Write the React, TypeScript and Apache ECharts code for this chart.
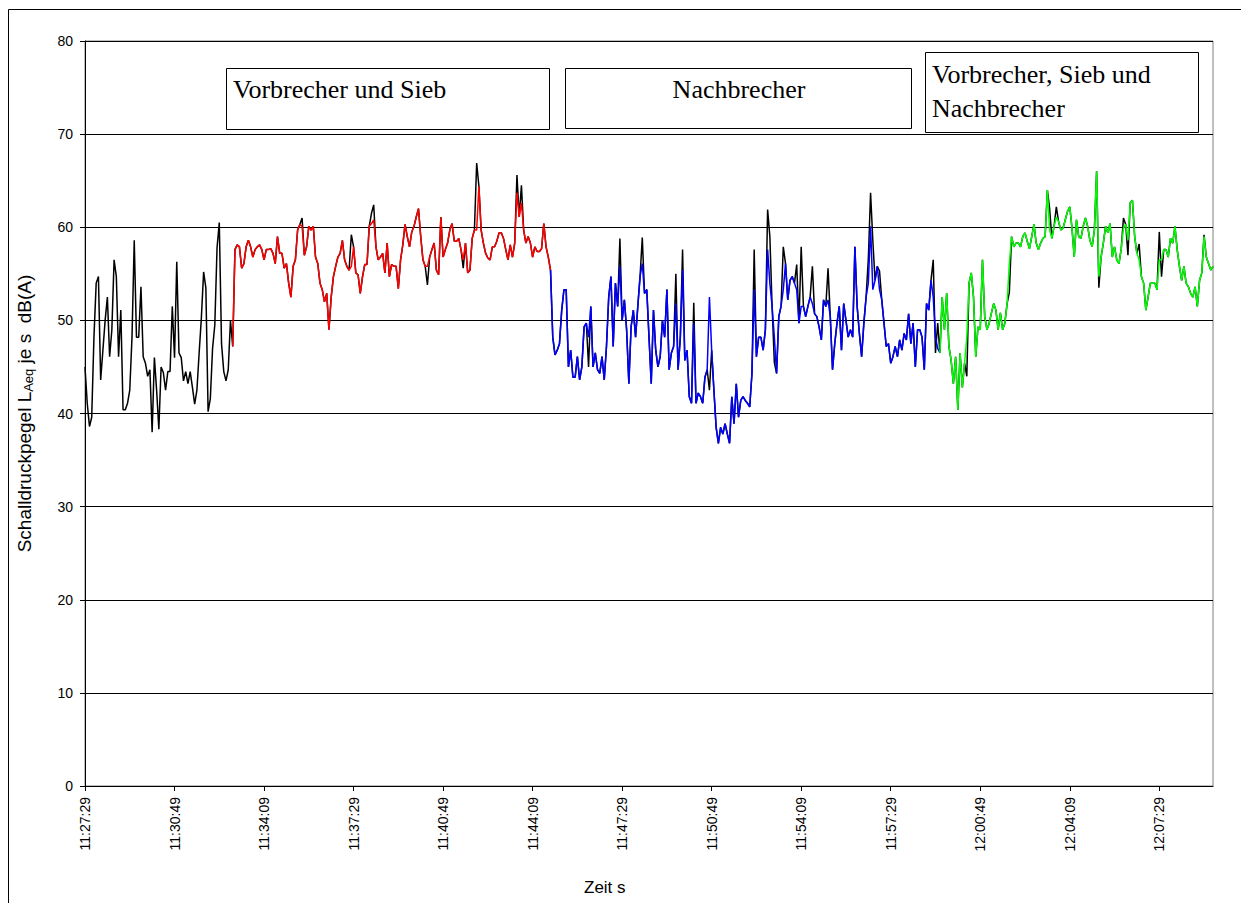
import React, { useEffect, useRef } from "react";
import * as echarts from "echarts";

const SANS = 'Arial, "Liberation Sans", sans-serif';
const SERIF = '"Times New Roman", "Liberation Serif", serif';

// x tick labels (one every 200 s = every 40 samples of 5 s)
const tickLabels = [
  "11:27:29", "11:30:49", "11:34:09", "11:37:29", "11:40:49", "11:44:09", "11:47:29",
  "11:50:49", "11:54:09", "11:57:29", "12:00:49", "12:04:09", "12:07:29",
];
const SAMPLES_PER_TICK = 40;
const SAMPLE_COUNT = 505;

// LAeq per 5 s sample (dB(A))
const leadBlack = [
  45.0, 41.1, 38.6, 39.6, 48.2, 54.0, 54.7, 43.6, 46.8, 50.0,
  52.5, 46.1, 49.0, 56.5, 54.7, 46.1, 51.1, 40.4, 40.4, 41.1,
  42.5, 48.2, 58.6, 48.2, 48.2, 53.6, 46.1, 45.4, 44.0, 44.7,
  38.0, 46.0, 42.5, 38.3, 45.0, 44.4, 42.5, 44.5, 44.5, 51.5,
  46.0, 56.3, 46.5, 46.0, 43.5, 44.5, 43.2, 44.5, 42.8, 41.0,
  42.5, 46.5, 50.3, 55.2, 53.5, 40.2, 41.6, 47.0, 49.5, 57.8,
  60.5, 47.5, 44.5, 43.5, 44.7, 50.0,
];

const RED_START = 66; // Vorbrecher und Sieb
const redLevels = [
  47.2, 57.6, 58.1, 57.9, 55.6, 56.1, 57.9, 58.6, 57.9, 56.8,
  57.6, 57.9, 58.1, 57.6, 56.5, 57.6, 57.6, 57.7, 57.2, 56.1,
  59.0, 57.2, 57.2, 55.6, 56.1, 54.0, 52.5, 55.8, 56.5, 59.7,
  60.3, 60.1, 57.0, 57.9, 60.1, 59.7, 60.1, 56.8, 56.1, 54.0,
  53.3, 52.0, 52.9, 49.0, 52.5, 54.7, 55.8, 56.8, 57.2, 58.6,
  56.5, 55.8, 55.4, 55.8, 57.9, 55.1, 54.9, 52.9, 54.7, 56.0,
  56.0, 60.1, 60.4, 60.8, 57.9, 56.5, 56.8, 57.2, 55.1, 58.3,
  54.7, 56.0, 55.8, 55.8, 53.4, 56.5, 58.1, 60.3, 59.0, 57.9,
  59.5, 60.1, 61.1, 62.0, 59.0, 56.5, 55.8, 55.8, 56.8, 57.6,
  58.3, 55.4, 54.9, 61.1, 56.8, 57.6, 58.3, 59.7, 60.4, 58.5,
  58.5, 58.8, 57.6, 56.5, 58.3, 55.1, 55.4, 58.8, 59.7, 59.7,
  64.4, 59.7, 58.3, 57.2, 56.7, 56.5, 57.9, 57.9, 58.5, 59.4,
  59.4, 58.8, 57.6, 56.5, 58.1, 56.8, 58.3, 63.7, 61.1, 62.6,
  59.7, 58.3, 59.0, 58.3, 56.8, 57.9, 57.4, 57.4, 57.7, 60.4,
  57.9, 56.8, 55.4,
];

const BLUE_START = 208; // Nachbrecher
const blueLevels = [
  55.4, 48.2, 46.3, 46.8, 47.5, 51.1, 53.3, 53.3, 45.0, 46.8,
  43.9, 43.9, 46.1, 43.6, 45.0, 49.3, 49.7, 48.2, 51.5, 45.0,
  46.5, 44.7, 44.3, 46.1, 43.6, 47.2, 52.5, 54.7, 47.2, 54.0,
  51.5, 55.8, 50.0, 52.2, 49.0, 43.2, 49.3, 51.1, 48.2, 51.5,
  54.7, 56.1, 52.9, 53.3, 48.2, 43.2, 51.1, 46.8, 45.0, 46.1,
  50.0, 48.2, 53.3, 44.7, 46.5, 47.2, 51.8, 44.7, 48.2, 55.4,
  45.7, 46.8, 41.8, 41.1, 49.7, 41.1, 42.2, 41.8, 41.1, 43.9,
  44.7, 52.5, 46.8, 42.5, 38.5, 36.8, 38.5, 37.8, 38.9, 37.8,
  36.8, 41.8, 38.9, 43.2, 39.6, 41.4, 41.8, 41.4, 41.1, 40.7,
  44.3, 53.3, 46.1, 48.2, 48.2, 46.8, 49.0, 57.6, 54.0, 51.5,
  48.2, 44.3, 50.4, 51.5, 53.3, 56.1, 52.2, 54.3, 54.7, 54.0,
  53.3, 49.7, 51.5, 51.5, 50.4, 51.5, 52.5, 51.8, 50.7, 50.4,
  49.3, 47.9, 52.2, 51.5, 52.2, 50.4, 44.7, 47.5, 49.7, 51.5,
  46.8, 51.8, 50.0, 48.2, 49.0, 48.2, 57.9, 51.5, 48.6, 46.1,
  49.7, 52.5, 54.0, 60.1, 53.3, 54.3, 55.8, 53.3, 52.2, 49.7,
  47.2, 47.5, 45.4, 46.1, 47.2, 46.1, 47.9, 46.8, 48.6, 47.9,
  50.7, 47.5, 49.7, 45.0, 49.0, 49.0, 48.2, 44.7, 51.8, 51.1,
  54.3, 52.5, 48.2, 47.0, 46.5,
];

const GREEN_START = 382; // Vorbrecher, Sieb und Nachbrecher
const greenLevels = [
  46.5, 52.5, 49.0, 52.9, 47.2, 45.7, 43.2, 46.1, 40.4, 46.5,
  42.8, 45.4, 48.2, 54.0, 55.1, 52.5, 46.1, 49.3, 49.0, 56.5,
  50.4, 49.0, 49.7, 50.8, 51.8, 51.1, 49.0, 50.8, 49.0, 49.7,
  51.8, 56.1, 59.0, 57.9, 58.3, 58.3, 57.9, 59.0, 59.4, 58.5,
  57.7, 59.0, 60.3, 58.3, 57.6, 58.3, 58.8, 59.0, 64.0, 59.7,
  58.8, 60.1, 61.1, 60.6, 59.7, 59.9, 60.8, 61.7, 62.2, 59.9,
  56.8, 60.8, 59.0, 58.8, 60.1, 61.0, 60.1, 58.6, 57.9, 59.7,
  66.0, 54.7, 56.8, 58.3, 60.1, 59.4, 60.4, 56.8, 57.9, 56.5,
  56.1, 57.7, 59.9, 60.3, 58.6, 62.6, 62.9, 59.0, 57.2, 56.5,
  54.7, 54.0, 51.1, 52.5, 54.0, 54.0, 54.0, 53.3, 56.5, 56.5,
  57.6, 57.6, 56.8, 58.8, 58.3, 60.1, 57.6, 55.8, 54.3, 55.8,
  54.0, 53.6, 52.9, 52.5, 53.6, 51.5, 54.3, 55.1, 59.0, 56.8,
  56.1, 55.4, 55.8,
];

// samples where the black trace differs from the coloured one: [sample, dB(A)]
const blackPeaks: [number, number][] = [
  [97, 61.0], [119, 59.2], [128, 61.5], [129, 62.4], [153, 53.8], [169, 55.6],
  [175, 66.9], [193, 65.6], [195, 64.5], [225, 45.0], [239, 58.8], [249, 58.9],
  [264, 55.0], [267, 57.6], [272, 51.9], [279, 42.5], [299, 57.6], [305, 61.9],
  [306, 59.0], [308, 45.5], [312, 57.9], [318, 56.0], [320, 57.9], [325, 55.8],
  [332, 55.6], [350, 56.6], [351, 63.7], [352, 58.6], [355, 55.3], [379, 56.5],
  [380, 46.5], [381, 49.7], [394, 44.0], [413, 53.0], [431, 62.0], [434, 62.2],
  [453, 53.5], [464, 61.0], [466, 57.0], [471, 58.2], [480, 59.5], [481, 54.7],
  [500, 59.2],
];

function buildBlack(): number[] {
  const arr = [
    ...leadBlack,
    ...redLevels.slice(0, -1),
    ...blueLevels.slice(0, -1),
    ...greenLevels,
  ];
  blackPeaks.forEach(([i, v]) => {
    arr[i] = v;
  });
  return arr;
}

function place(start: number, vals: number[]): (number | string)[] {
  const a: (number | string)[] = new Array(SAMPLE_COUNT).fill("-");
  vals.forEach((v, k) => {
    a[start + k] = v;
  });
  return a;
}

function lineSeries(name: string, data: (number | string)[], color: string) {
  return {
    name,
    type: "line",
    data,
    showSymbol: false,
    symbol: "none",
    silent: true,
    connectNulls: false,
    lineStyle: { color, width: 1.5 },
    itemStyle: { color },
  };
}

export default function App() {
  const ref = useRef<HTMLDivElement>(null);

  useEffect(() => {
    if (!ref.current) return;
    const chart = echarts.init(ref.current, undefined, { renderer: "svg" });
    const categories = Array.from({ length: SAMPLE_COUNT }, (_, i) => String(i));

    const box = (x: number, y: number, w: number, h: number) => ({
      type: "rect",
      z: 100,
      shape: { x: x + 0.5, y: y + 0.5, width: w, height: h },
      style: { fill: "#fff", stroke: "#000", lineWidth: 1 },
    });
    const label = (text: string, x: number, y: number, align = "left") => ({
      type: "text",
      z: 101,
      x,
      y,
      style: {
        text,
        fill: "#000",
        fontSize: 26,
        fontFamily: SERIF,
        align,
        verticalAlign: "middle",
      },
    });

    chart.setOption({
      animation: false,
      backgroundColor: "#fff",
      grid: {
        left: 85,
        top: 41,
        right: 28,
        bottom: 117,
        show: true,
        borderColor: "#808080",
        borderWidth: 1,
        backgroundColor: "transparent",
        containLabel: false,
        outerBoundsMode: "none",
      },
      xAxis: {
        type: "category",
        data: categories,
        boundaryGap: false,
        axisLine: { lineStyle: { color: "#000", width: 1 } },
        axisTick: { show: true, interval: SAMPLES_PER_TICK - 1, length: 5, lineStyle: { color: "#000" } },
        axisLabel: {
          interval: SAMPLES_PER_TICK - 1,
          rotate: 90,
          margin: 11,
          fontSize: 14,
          fontFamily: SANS,
          color: "#000",
          formatter: (_v: string, idx: number) => tickLabels[idx / SAMPLES_PER_TICK] ?? "",
        },
        splitLine: { show: false },
      },
      yAxis: {
        type: "value",
        min: 0,
        max: 80,
        interval: 10,
        axisLine: { show: true, lineStyle: { color: "#000", width: 1 } },
        axisTick: { show: true, length: 5, lineStyle: { color: "#000" } },
        axisLabel: { margin: 12, fontSize: 14, fontFamily: SANS, color: "#000" },
        splitLine: { show: true, lineStyle: { color: "#000", width: 1 } },
        name: "Schalldruckpegel L{sub|Aeq} je s  dB(A)",
        nameLocation: "middle",
        nameRotate: 90,
        nameGap: 50,
        nameTextStyle: {
          fontSize: 19,
          fontFamily: SANS,
          color: "#000",
          lineHeight: 22,
          rich: {
            sub: { fontSize: 13, fontFamily: SANS, color: "#000", lineHeight: 13, verticalAlign: "bottom" },
          },
        },
      },
      series: [
        lineSeries("gesamt", buildBlack(), "#000000"),
        lineSeries("Vorbrecher und Sieb", place(RED_START, redLevels), "#FF0000"),
        lineSeries("Nachbrecher", place(BLUE_START, blueLevels), "#0000FF"),
        lineSeries("Vorbrecher, Sieb und Nachbrecher", place(GREEN_START, greenLevels), "#00FF00"),
      ],
      graphic: [
        { type: "line", z: 100, shape: { x1: 8.5, y1: 9.5, x2: 1241, y2: 9.5 }, style: { stroke: "#000", lineWidth: 1 } },
        { type: "line", z: 100, shape: { x1: 8.5, y1: 9.5, x2: 8.5, y2: 903 }, style: { stroke: "#000", lineWidth: 1 } },
        box(226, 68, 323, 61),
        label("Vorbrecher und Sieb", 233, 89),
        box(565, 68, 346, 60),
        label("Nachbrecher", 739, 89, "center"),
        box(925, 52, 273, 80),
        label("Vorbrecher, Sieb und", 932, 74),
        label("Nachbrecher", 932, 108),
        {
          type: "text",
          z: 101,
          x: 584,
          y: 887,
          style: { text: "Zeit s", fill: "#000", fontSize: 17, fontFamily: SANS, verticalAlign: "middle" },
        },
      ],
    });

    return () => chart.dispose();
  }, []);

  return (
    <div
      ref={ref}
      style={{ position: "fixed", left: 0, top: 0, width: 1241, height: 903, background: "#fff" }}
    />
  );
}
